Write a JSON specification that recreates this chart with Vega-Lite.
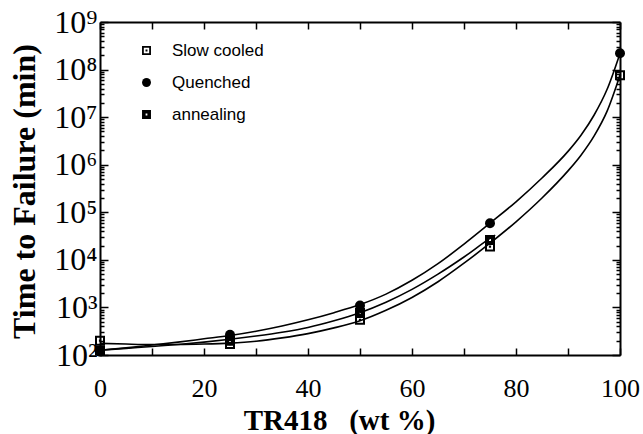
{
  "$schema": "https://vega.github.io/schema/vega-lite/v6.json",
  "width": 520,
  "height": 333,
  "autosize": "none",
  "padding": {"left": 100, "top": 22, "right": 23, "bottom": 79},
  "background": "white",
  "config": {
    "view": {"stroke": null},
    "font": "Liberation Serif",
    "axis": {"labelFont": "Liberation Serif", "titleFont": "Liberation Serif"}
  },
  "datasets": {
    "curves": [
      {"series": "Quenched", "x": 0, "y": 125.9},
      {"series": "Quenched", "x": 5, "y": 141.3},
      {"series": "Quenched", "x": 10, "y": 162.2},
      {"series": "Quenched", "x": 15, "y": 186.2},
      {"series": "Quenched", "x": 20, "y": 218.8},
      {"series": "Quenched", "x": 25, "y": 257.0},
      {"series": "Quenched", "x": 30, "y": 316.2},
      {"series": "Quenched", "x": 35, "y": 407.4},
      {"series": "Quenched", "x": 40, "y": 549.5},
      {"series": "Quenched", "x": 45, "y": 776.2},
      {"series": "Quenched", "x": 50, "y": 1148},
      {"series": "Quenched", "x": 55, "y": 1905},
      {"series": "Quenched", "x": 60, "y": 3715},
      {"series": "Quenched", "x": 65, "y": 8318},
      {"series": "Quenched", "x": 70, "y": 21380},
      {"series": "Quenched", "x": 75, "y": 58884},
      {"series": "Quenched", "x": 80, "y": 165960},
      {"series": "Quenched", "x": 85, "y": 524810},
      {"series": "Quenched", "x": 90, "y": 1905500},
      {"series": "Quenched", "x": 92.5, "y": 4168700},
      {"series": "Quenched", "x": 95, "y": 10965000},
      {"series": "Quenched", "x": 97.5, "y": 38019000},
      {"series": "Quenched", "x": 100, "y": 218780000},
      {"series": "annealing", "x": 0, "y": 125.9},
      {"series": "annealing", "x": 5, "y": 138.0},
      {"series": "annealing", "x": 10, "y": 151.4},
      {"series": "annealing", "x": 15, "y": 166.0},
      {"series": "annealing", "x": 20, "y": 186.2},
      {"series": "annealing", "x": 25, "y": 213.8},
      {"series": "annealing", "x": 30, "y": 251.2},
      {"series": "annealing", "x": 35, "y": 302.0},
      {"series": "annealing", "x": 40, "y": 380.2},
      {"series": "annealing", "x": 45, "y": 524.8},
      {"series": "annealing", "x": 50, "y": 776.2},
      {"series": "annealing", "x": 55, "y": 1288},
      {"series": "annealing", "x": 60, "y": 2399},
      {"series": "annealing", "x": 65, "y": 5012},
      {"series": "annealing", "x": 70, "y": 11482},
      {"series": "annealing", "x": 75, "y": 28184},
      {"series": "annealing", "x": 76, "y": 33113},
      {"series": "Slow cooled", "x": 0, "y": 175.8},
      {"series": "Slow cooled", "x": 5, "y": 169.8},
      {"series": "Slow cooled", "x": 10, "y": 166.0},
      {"series": "Slow cooled", "x": 15, "y": 166.0},
      {"series": "Slow cooled", "x": 20, "y": 169.8},
      {"series": "Slow cooled", "x": 25, "y": 177.8},
      {"series": "Slow cooled", "x": 30, "y": 195.0},
      {"series": "Slow cooled", "x": 35, "y": 229.1},
      {"series": "Slow cooled", "x": 40, "y": 281.8},
      {"series": "Slow cooled", "x": 45, "y": 371.5},
      {"series": "Slow cooled", "x": 50, "y": 524.8},
      {"series": "Slow cooled", "x": 55, "y": 871.0},
      {"series": "Slow cooled", "x": 60, "y": 1622},
      {"series": "Slow cooled", "x": 65, "y": 3467},
      {"series": "Slow cooled", "x": 70, "y": 8511},
      {"series": "Slow cooled", "x": 75, "y": 22387},
      {"series": "Slow cooled", "x": 80, "y": 63096},
      {"series": "Slow cooled", "x": 85, "y": 199530},
      {"series": "Slow cooled", "x": 90, "y": 741310},
      {"series": "Slow cooled", "x": 92.5, "y": 1584900},
      {"series": "Slow cooled", "x": 95, "y": 3981100},
      {"series": "Slow cooled", "x": 97.5, "y": 13183000},
      {"series": "Slow cooled", "x": 100, "y": 75858000}
    ],
    "points": [
      {"series": "annealing", "x": 0, "y": 125},
      {"series": "annealing", "x": 25, "y": 200},
      {"series": "annealing", "x": 50, "y": 760},
      {"series": "annealing", "x": 75, "y": 26000},
      {"series": "Slow cooled", "x": 0, "y": 200},
      {"series": "Slow cooled", "x": 25, "y": 170},
      {"series": "Slow cooled", "x": 50, "y": 550},
      {"series": "Slow cooled", "x": 75, "y": 19000},
      {"series": "Slow cooled", "x": 100, "y": 76000000},
      {"series": "Quenched", "x": 0, "y": 117},
      {"series": "Quenched", "x": 25, "y": 265},
      {"series": "Quenched", "x": 50, "y": 1100},
      {"series": "Quenched", "x": 75, "y": 59000},
      {"series": "Quenched", "x": 100, "y": 220000000}
    ]
  },
  "layer": [
    {
      "data": {"name": "curves"},
      "mark": {"type": "line", "interpolate": "monotone", "color": "black", "strokeWidth": 1.6},
      "encoding": {
        "x": {
          "field": "x", "type": "quantitative",
          "scale": {"domain": [0, 100], "nice": false, "zero": false},
          "axis": {
            "orient": "bottom",
            "values": [0, 10, 20, 30, 40, 50, 60, 70, 80, 90, 100],
            "labelExpr": "datum.value % 20 === 0 ? datum.label : ''",
            "tickSize": -7, "tickWidth": 1.5, "tickColor": "black",
            "labelPadding": 27, "labelFont": "Liberation Serif", "labelFontSize": 26, "labelColor": "black",
            "labelOverlap": false, "labelFlush": false,
            "domainColor": "black", "domainWidth": 2, "grid": false,
            "title": "TR418\u00a0\u00a0\u00a0(wt\u00a0%)", "titleFont": "Liberation Serif", "titleFontSize": 29,
            "titleFontWeight": "bold", "titleColor": "black",
            "titleX": 239, "titleY": 65, "titleBaseline": "middle", "titleAlign": "center"
          }
        },
        "y": {
          "field": "y", "type": "quantitative",
          "scale": {"type": "log", "domain": [100, 1000000000], "nice": false},
          "axis": {
            "orient": "left",
            "values": [100,200,300,400,500,600,700,800,900,1000,2000,3000,4000,5000,6000,7000,8000,9000,10000,20000,30000,40000,50000,60000,70000,80000,90000,100000,200000,300000,400000,500000,600000,700000,800000,900000,1000000,2000000,3000000,4000000,5000000,6000000,7000000,8000000,9000000,10000000,20000000,30000000,40000000,50000000,60000000,70000000,80000000,90000000,100000000,200000000,300000000,400000000,500000000,600000000,700000000,800000000,900000000,1000000000],
            "labelExpr": "abs(log(datum.value)/LN10 - round(log(datum.value)/LN10)) < 0.001 ? '10' + ['⁰','¹','²','³','⁴','⁵','⁶','⁷','⁸','⁹'][round(log(datum.value)/LN10)] : ''",
            "tickSize": {"condition": {"test": "abs(log(datum.value)/LN10 - round(log(datum.value)/LN10)) < 0.001", "value": -8}, "value": -4},
            "tickWidth": 1.5, "tickColor": "black",
            "labelPadding": 11, "labelFont": "Liberation Serif", "labelFontSize": 32, "labelColor": "black",
            "labelOverlap": false, "labelFlush": false,
            "domainColor": "black", "domainWidth": 2, "grid": false,
            "title": "Time to Failure (min)", "titleFont": "Liberation Serif", "titleFontSize": 32,
            "titleFontWeight": "bold", "titleColor": "black",
            "titleX": -76, "titleY": 169, "titleBaseline": "middle", "titleAlign": "center", "titleAngle": -90
          }
        },
        "detail": {"field": "series"}
      }
    },
    {
      "data": {"name": "points"},
      "mark": {"type": "point", "filled": true, "color": "black", "size": 100, "opacity": 1},
      "encoding": {
        "x": {
          "field": "x", "type": "quantitative",
          "axis": {
            "orient": "top", "values": [0, 10, 20, 30, 40, 50, 60, 70, 80, 90, 100],
            "labels": false, "tickSize": -7, "tickWidth": 1.5, "tickColor": "black",
            "domainColor": "black", "domainWidth": 2, "grid": false, "title": null
          }
        },
        "y": {
          "field": "y", "type": "quantitative",
          "axis": {
            "orient": "right",
            "values": [100,200,300,400,500,600,700,800,900,1000,2000,3000,4000,5000,6000,7000,8000,9000,10000,20000,30000,40000,50000,60000,70000,80000,90000,100000,200000,300000,400000,500000,600000,700000,800000,900000,1000000,2000000,3000000,4000000,5000000,6000000,7000000,8000000,9000000,10000000,20000000,30000000,40000000,50000000,60000000,70000000,80000000,90000000,100000000,200000000,300000000,400000000,500000000,600000000,700000000,800000000,900000000,1000000000],
            "labels": false,
            "tickSize": {"condition": {"test": "abs(log(datum.value)/LN10 - round(log(datum.value)/LN10)) < 0.001", "value": -8}, "value": -4},
            "tickWidth": 1.5, "tickColor": "black",
            "domainColor": "black", "domainWidth": 2, "grid": false, "title": null
          }
        },
        "shape": {
          "field": "series", "type": "nominal",
          "scale": {
            "domain": ["Slow cooled", "Quenched", "annealing"],
            "range": [
              "M-1,-1H1V1H-1Z M-0.6,-0.6V0.6H0.6V-0.6Z M-0.22,-0.22H0.22V0.22H-0.22Z",
              "circle",
              "M-1,-1H1V1H-1Z M-0.2,-0.2V0.2H0.2V-0.2Z"
            ]
          },
          "legend": {
            "orient": "none", "legendX": 38, "legendY": 20, "title": null, "padding": 0,
            "symbolSize": 80, "symbolFillColor": "black", "symbolStrokeColor": "black", "symbolStrokeWidth": 0,
            "labelFont": "Liberation Sans", "labelFontSize": 17, "labelColor": "black",
            "labelOffset": 17, "rowPadding": 14
          }
        }
      }
    }
  ],
  "resolve": {"axis": {"x": "independent", "y": "independent"}}
}
